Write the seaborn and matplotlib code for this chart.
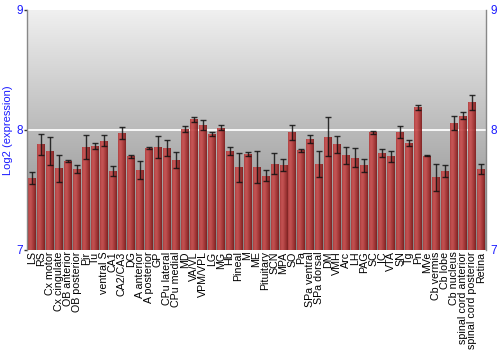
import numpy as np
import pandas as pd
import matplotlib
matplotlib.use("Agg")
import matplotlib.pyplot as plt
from matplotlib.colors import LinearSegmentedColormap
import seaborn as sns

regions = ["LS", "RS", "Cx motor", "Cx cingulate", "OB anterior", "OB posterior", "Pir", "Tu",
           "ventral S", "CA1", "CA2/CA3", "DG", "A anterior", "A posterior", "GP", "CPu lateral",
           "CPu medial", "MD", "VA/VL", "VPM/VPL", "LG", "MG", "Hb", "Pineal", "M", "ME",
           "Pituitary", "SCN", "MPA", "SO", "Pa", "SPa ventral", "SPa dorsal", "DM", "VMH", "Arc",
           "LH", "PAG", "SC", "IC", "VTA", "SN", "Tg", "Pn", "MVe", "Cb vermis", "Cb lobe",
           "Cb nucleus", "spinal cord anterior", "spinal cord posterior", "Retina"]

expression = [7.60, 7.88, 7.825, 7.68, 7.74, 7.675, 7.86, 7.87,
              7.91, 7.66, 7.975, 7.78, 7.67, 7.85, 7.86, 7.85,
              7.75, 8.01, 8.09, 8.04, 7.967, 8.02, 7.825, 7.69, 7.80, 7.69,
              7.62, 7.72, 7.705, 7.98, 7.83, 7.925, 7.715, 7.945, 7.88, 7.79,
              7.77, 7.705, 7.98, 7.81, 7.78, 7.98, 7.89, 8.19, 7.785, 7.605, 7.66,
              8.06, 8.12, 8.23, 7.675]

error = [0.05, 0.09, 0.12, 0.11, 0.01, 0.03, 0.10, 0.025,
         0.045, 0.04, 0.05, 0.01, 0.075, 0.012, 0.09, 0.07,
         0.07, 0.025, 0.02, 0.04, 0.015, 0.02, 0.03, 0.12, 0.017, 0.135,
         0.045, 0.09, 0.05, 0.06, 0.015, 0.03, 0.11, 0.16, 0.07, 0.07,
         0.08, 0.055, 0.015, 0.035, 0.045, 0.05, 0.025, 0.02, 0.003, 0.115, 0.05,
         0.06, 0.03, 0.062, 0.04]

y_ticks = [7, 8, 9]
y_label = "Log2 (expression)"

df = pd.DataFrame({"region": regions, "expression": expression, "error": error})

sns.set_style("white")
plt.rcParams["font.family"] = ["Liberation Sans", "DejaVu Sans"]

fig = plt.figure(figsize=(5, 3.5), dpi=100)
ax = fig.add_axes([27 / 500, 1 - 250 / 350, (486 - 27) / 500, 240 / 350])

# background vertical gradient
bg = LinearSegmentedColormap.from_list("bg", ["#848484", "#f0f0f0"])
grad = np.linspace(0, 1, 256).reshape(-1, 1)
ax.imshow(grad, cmap=bg, aspect="auto", extent=[0, 1, 0, 1], origin="lower",
          transform=ax.transAxes, zorder=0)

sns.barplot(data=df, x="region", y="expression", color="#b03030", width=0.88,
            errorbar=None, ax=ax, zorder=2, bottom=0)

ax.set_ylim(7, 9)
ax.set_xlim(-0.58, 50.57)

# horizontal red gradient for bars
bar_cmap = LinearSegmentedColormap.from_list(
    "bar", [(0.0, "#a83030"), (0.12, "#c44646"), (0.35, "#c84a4a"), (0.75, "#a02a2a"), (1.0, "#7a1616")])
hgrad = np.linspace(0, 1, 64).reshape(1, -1)
for p in ax.patches:
    x0, y0 = p.get_x(), p.get_y()
    w, h = p.get_width(), p.get_height()
    im = ax.imshow(hgrad, cmap=bar_cmap, aspect="auto", extent=[x0, x0 + w, 7, y0 + h],
                   zorder=2.5, alpha=0.9)
    im.set_clip_path(p)
    p.set_facecolor("none")
    p.set_edgecolor("none")

ax.set_ylim(7, 9)
ax.set_xlim(-0.58, 50.57)

ax.axhline(8, color="white", lw=1.4, zorder=1.5, alpha=0.9)

ax.errorbar(np.arange(len(regions)), df["expression"], yerr=df["error"], fmt="none",
            ecolor="#111111", elinewidth=1.0, capsize=2.2, capthick=1.0, zorder=4, alpha=0.85)

ax.set_yticks(y_ticks)
ax.set_yticklabels([str(t) for t in y_ticks])
ax.tick_params(axis="y", which="both", left=True, right=False, labelleft=True, labelright=True,
               length=2.2, width=1, color="#333333", labelcolor="#1a1aff", labelsize=8.5, pad=0.8)
ax.tick_params(axis="x", bottom=False, length=0, labelsize=7.7, labelcolor="black", pad=1)
plt.setp(ax.get_xticklabels(), rotation=90)

ax.set_xlabel("")
ax.set_ylabel(y_label, color="#1a1aff", fontsize=8, labelpad=2.5)

for side in ["top", "bottom"]:
    ax.spines[side].set_visible(False)
for side in ["left", "right"]:
    ax.spines[side].set_visible(True)
    ax.spines[side].set_color("#888888")
    ax.spines[side].set_linewidth(1.0)

fig.savefig("out.png", dpi=100)
